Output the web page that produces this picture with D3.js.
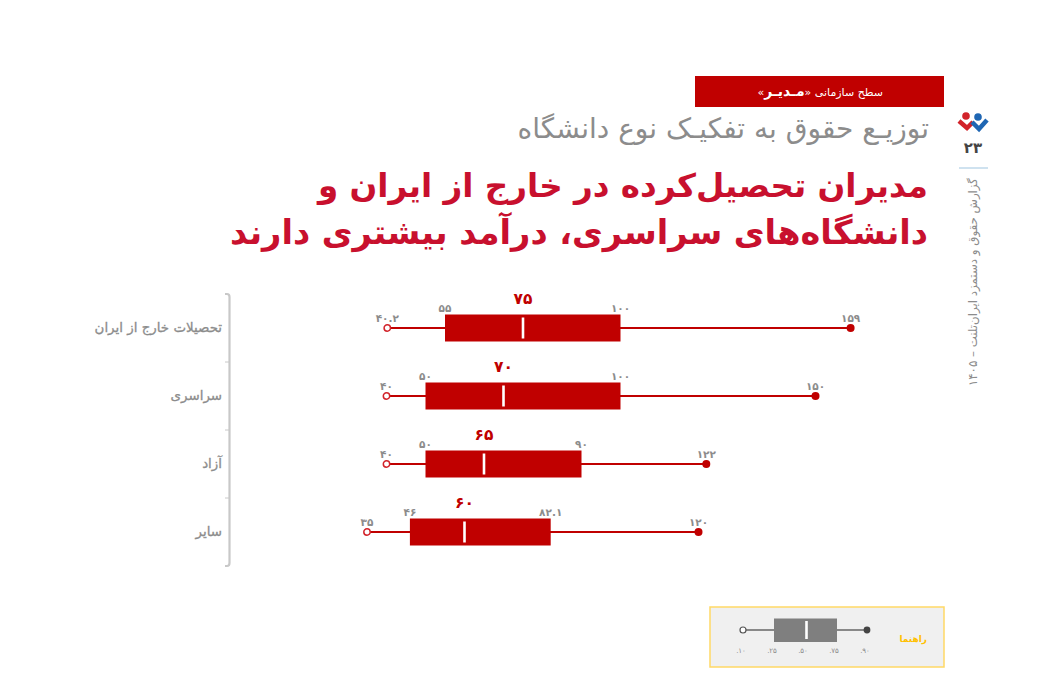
<!DOCTYPE html>
<html>
<head>
<meta charset="utf-8">
<script src="https://cdn.jsdelivr.net/npm/d3@7"></script>
<style>
  html, body { margin: 0; padding: 0; background: #fff; }
  svg { display: block; }
  text { font-family: "DejaVu Sans", sans-serif; }
</style>
</head>
<body>
<div id="chart"></div>
<script>
// salary distribution by university type
var categories = ["تحصیلات خارج از ایران", "سراسری", "آزاد", "سایر"];
var p10 = [40.2, 40, 40, 35];
var p25 = [55, 50, 50, 46];
var p50 = [75, 70, 65, 60];
var p75 = [100, 100, 90, 82.1];
var p90 = [159, 150, 122, 120];

var p10Labels = ["۴۰.۲", "۴۰", "۴۰", "۳۵"];
var p25Labels = ["۵۵", "۵۰", "۵۰", "۴۶"];
var p50Labels = ["۷۵", "۷۰", "۶۵", "۶۰"];
var p75Labels = ["۱۰۰", "۱۰۰", "۹۰", "۸۲.۱"];
var p90Labels = ["۱۵۹", "۱۵۰", "۱۲۲", "۱۲۰"];

var guideLabels = [".۱۰", ".۲۵", ".۵۰", ".۷۵", ".۹۰"];

var svgWidth = 1040;
var svgHeight = 694;
var red = "#c00000";

var svg = d3.select("#chart")
  .append("svg")
  .attr("width", svgWidth)
  .attr("height", svgHeight);

var xScale = d3.scaleLinear()
  .domain([40, 100])
  .range([386.5, 620.5]);

var yScale = d3.scaleBand()
  .domain(categories)
  .range([294, 566]);

// header
svg.append("rect")
  .attr("x", 695)
  .attr("y", 76)
  .attr("width", 249)
  .attr("height", 31)
  .attr("fill", red);

var banner = svg.append("text")
  .attr("x", 883)
  .attr("y", 95.5)
  .attr("direction", "rtl")
  .attr("fill", "#fff")
  .attr("font-size", 11);
banner.append("tspan").text("سطح سازمانی «");
banner.append("tspan").attr("font-weight", "bold").attr("font-size", 14).text("مـدیـر");
banner.append("tspan").text("»");

svg.append("text")
  .attr("x", 929)
  .attr("y", 138)
  .attr("direction", "rtl")
  .attr("fill", "#8c8c8c")
  .attr("font-size", 28)
  .text("توزیـع حقوق به تفکیـک نوع دانشگاه");

svg.selectAll(".title")
  .data(["مدیران تحصیل‌کرده در خارج از ایران و", "دانشگاه‌های سراسری، درآمد بیشتری دارند"])
  .enter()
  .append("text")
  .attr("class", "title")
  .attr("x", 928)
  .attr("y", (d, i) => 197 + i * 47)
  .attr("direction", "rtl")
  .attr("fill", "#c8102e")
  .attr("font-size", (d, i) => i === 0 ? 32.6 : 33.6)
  .attr("font-weight", "bold")
  .text(d => d);

// side strip
var logo = svg.append("g").attr("transform", "translate(973, 122)");
logo.append("path")
  .attr("d", "M-14,-1 L-6,6 L0,0")
  .attr("fill", "none")
  .attr("stroke", "#d2232a")
  .attr("stroke-width", 4.5);
logo.append("circle").attr("cx", -7).attr("cy", -6).attr("r", 3.8).attr("fill", "#d2232a");
logo.append("path")
  .attr("d", "M-1,0 L6,7 L14,-2")
  .attr("fill", "none")
  .attr("stroke", "#1f66b3")
  .attr("stroke-width", 4.5);
logo.append("circle").attr("cx", 5).attr("cy", -5).attr("r", 3.8).attr("fill", "#1f66b3");

svg.append("text")
  .attr("x", 973)
  .attr("y", 153)
  .attr("text-anchor", "middle")
  .attr("fill", "#444")
  .attr("font-size", 15)
  .attr("font-weight", "bold")
  .text("۲۳");

svg.append("line")
  .attr("x1", 959)
  .attr("x2", 988)
  .attr("y1", 168)
  .attr("y2", 168)
  .attr("stroke", "#9fc5e0")
  .attr("stroke-width", 1);

svg.append("text")
  .attr("transform", "translate(977, 178) rotate(-90)")
  .attr("direction", "rtl")
  .attr("fill", "#8c8c8c")
  .attr("font-size", 11.8)
  .text("گزارش حقوق و دستمزد ایران‌تلنت – ۱۴۰۵");

// category bracket
var axisGroup = svg.append("g");
var bracket = d3.path();
bracket.moveTo(225, 294);
bracket.lineTo(227, 294);
bracket.quadraticCurveTo(229.5, 294, 229.5, 297);
bracket.lineTo(229.5, 563);
bracket.quadraticCurveTo(229.5, 566, 227, 566);
bracket.lineTo(225, 566);
axisGroup.append("path")
  .attr("d", bracket.toString())
  .attr("fill", "none")
  .attr("stroke", "#c8c8c8")
  .attr("stroke-width", 2.2);

axisGroup.selectAll(".tick-mark")
  .data(categories.slice(1))
  .enter()
  .append("line")
  .attr("class", "tick-mark")
  .attr("x1", 225)
  .attr("x2", 230)
  .attr("y1", d => yScale(d))
  .attr("y2", d => yScale(d))
  .attr("stroke", "#c8c8c8")
  .attr("stroke-width", 1);

axisGroup.selectAll(".cat-label")
  .data(categories)
  .enter()
  .append("text")
  .attr("class", "cat-label")
  .attr("x", 222)
  .attr("y", d => yScale(d) + yScale.bandwidth() / 2 + 4)
  .attr("direction", "rtl")
  .attr("fill", "#8c8c8c")
  .attr("stroke", "#8c8c8c")
  .attr("stroke-width", 0.3)
  .attr("font-size", 13.4)
  .text(d => d);

// boxes
var boxHeight = 27;
var rows = svg.selectAll(".row")
  .data(categories)
  .enter()
  .append("g")
  .attr("class", "row")
  .attr("transform", d => `translate(0, ${yScale(d) + yScale.bandwidth() / 2})`);

rows.append("line")
  .attr("x1", (d, i) => xScale(p10[i]))
  .attr("x2", (d, i) => xScale(p90[i]))
  .attr("stroke", red)
  .attr("stroke-width", 2);

rows.append("rect")
  .attr("x", (d, i) => xScale(p25[i]))
  .attr("width", (d, i) => xScale(p75[i]) - xScale(p25[i]))
  .attr("y", -boxHeight / 2)
  .attr("height", boxHeight)
  .attr("fill", red);

rows.append("line")
  .attr("x1", (d, i) => xScale(p50[i]))
  .attr("x2", (d, i) => xScale(p50[i]))
  .attr("y1", -10.5)
  .attr("y2", 10.5)
  .attr("stroke", "#fff")
  .attr("stroke-width", 2.6);

rows.append("circle")
  .attr("cx", (d, i) => xScale(p10[i]))
  .attr("r", 3.2)
  .attr("fill", "#fff")
  .attr("stroke", "#d2232a")
  .attr("stroke-width", 1.5);

rows.append("circle")
  .attr("cx", (d, i) => xScale(p90[i]))
  .attr("r", 4)
  .attr("fill", red);

function addValueLabels(values, labels, yOffset, size, colour, weight) {
  rows.append("text")
    .attr("x", (d, i) => xScale(values[i]))
    .attr("y", yOffset)
    .attr("text-anchor", "middle")
    .attr("fill", colour)
    .attr("font-size", size)
    .attr("font-weight", weight)
    .text((d, i) => labels[i]);
}

addValueLabels(p10, p10Labels, -6, 10.5, "#8c8c8c", "bold");
addValueLabels(p25, p25Labels, -16, 10.5, "#8c8c8c", "bold");
addValueLabels(p50, p50Labels, -24, 15.5, red, "bold");
addValueLabels(p75, p75Labels, -16, 10.5, "#8c8c8c", "bold");
addValueLabels(p90, p90Labels, -6, 10.5, "#8c8c8c", "bold");

// guide box
svg.append("rect")
  .attr("x", 710)
  .attr("y", 607)
  .attr("width", 234)
  .attr("height", 60)
  .attr("fill", "#f0f0f0")
  .attr("stroke", "#ffd966")
  .attr("stroke-width", 1.5);

svg.append("text")
  .attr("x", 927)
  .attr("y", 642)
  .attr("direction", "rtl")
  .attr("fill", "#ffc000")
  .attr("font-size", 9)
  .attr("font-weight", "bold")
  .text("راهنما");

var guideScale = d3.scalePoint()
  .domain(guideLabels)
  .range([743, 867]);

svg.append("line")
  .attr("x1", guideScale(guideLabels[0]))
  .attr("x2", guideScale(guideLabels[4]))
  .attr("y1", 630)
  .attr("y2", 630)
  .attr("stroke", "#666")
  .attr("stroke-width", 1.5);

svg.append("rect")
  .attr("x", guideScale(guideLabels[1]))
  .attr("width", guideScale(guideLabels[3]) - guideScale(guideLabels[1]) + 1)
  .attr("y", 618.5)
  .attr("height", 23.5)
  .attr("fill", "#7f7f7f");

svg.append("line")
  .attr("x1", guideScale(guideLabels[2]) + 1.5)
  .attr("x2", guideScale(guideLabels[2]) + 1.5)
  .attr("y1", 621)
  .attr("y2", 639)
  .attr("stroke", "#fff")
  .attr("stroke-width", 2.6);

svg.append("circle")
  .attr("cx", guideScale(guideLabels[0]))
  .attr("cy", 630)
  .attr("r", 3)
  .attr("fill", "#fff")
  .attr("stroke", "#555")
  .attr("stroke-width", 1.2);

svg.append("circle")
  .attr("cx", guideScale(guideLabels[4]))
  .attr("cy", 630)
  .attr("r", 3.4)
  .attr("fill", "#444");

svg.selectAll(".guide-label")
  .data(guideLabels)
  .enter()
  .append("text")
  .attr("class", "guide-label")
  .attr("x", d => guideScale(d) - 2)
  .attr("y", 653)
  .attr("text-anchor", "middle")
  .attr("fill", "#8c8c8c")
  .attr("font-size", 7)
  .text(d => d);
</script>
</body>
</html>
